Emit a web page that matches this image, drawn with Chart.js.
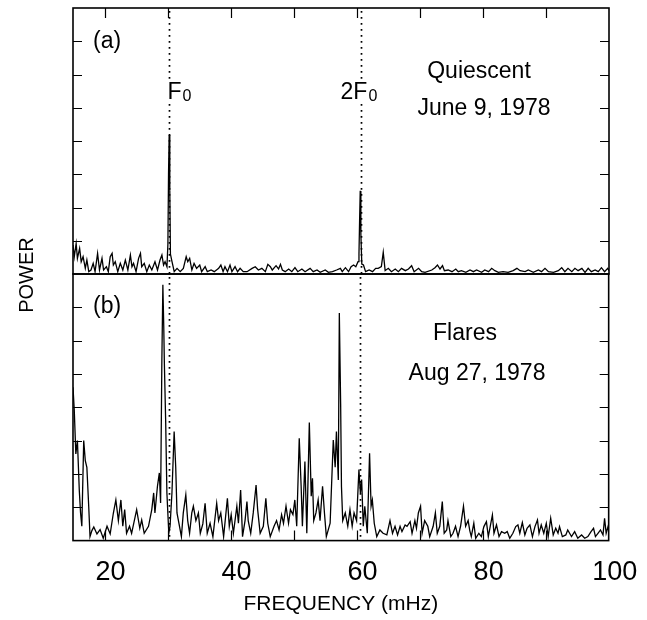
<!DOCTYPE html>
<html>
<head>
<meta charset="utf-8">
<script src="https://cdn.jsdelivr.net/npm/chart.js@4.4.1/dist/chart.umd.min.js"></script>
<style>
  html, body { margin: 0; padding: 0; background: #fff; }
  #wrap { position: relative; width: 647px; height: 620px; }
  #wrap canvas { position: absolute; left: 0; top: 0; }
</style>
</head>
<body>
<div id="wrap">
  <canvas id="panelA" width="647" height="620"></canvas>
  <canvas id="panelB" width="647" height="620"></canvas>
</div>
<script>
// (a) quiescent, June 9 1978
const freqA = [
  15.0, 15.2, 15.5, 15.7, 16.05, 16.3, 16.6, 16.95, 17.2, 17.5,
  17.85, 18.2, 18.5, 18.9, 19.2, 19.6, 19.85, 20.3, 20.6, 20.9,
  21.2, 21.4, 21.7, 22.1, 22.5, 22.9, 23.3, 23.7, 24.1, 24.35,
  24.6, 25.0, 25.4, 25.7, 25.9, 26.3, 26.7, 27.1, 27.5, 28.0,
  28.4, 28.8, 29.1, 29.36, 29.6, 29.9, 30.05, 30.15, 30.25, 30.35,
  30.45, 30.7, 31.05, 31.5, 32.0, 32.5, 32.95, 33.2, 33.5, 33.85,
  34.2, 34.6, 35.1, 35.4, 35.96, 36.3, 36.9, 37.4, 38.1, 38.45,
  38.8, 39.1, 39.5, 39.9, 40.2, 40.7, 41.1, 41.5, 42.0, 42.6,
  43.4, 43.9, 44.4, 44.95, 45.5, 45.9, 46.3, 46.6, 47.2, 47.6,
  47.9, 48.2, 48.65, 49.2, 49.7, 50.2, 50.65, 51.3, 51.8, 52.6,
  53.1, 53.7, 54.2, 55.0, 55.5, 56.15, 56.8, 57.4, 57.7, 58.2,
  58.7, 59.1, 59.5, 59.85, 60.2, 60.35, 60.45, 60.55, 60.65, 60.8,
  61.06, 61.4, 61.96, 62.5, 63.0, 63.4, 63.9, 64.2, 64.5, 65.0,
  65.5, 66.1, 66.6, 67.1, 67.7, 68.2, 68.7, 69.1, 69.8, 70.3,
  70.83, 71.9, 72.4, 72.8, 73.2, 73.6, 73.9, 74.5, 75.1, 75.7,
  76.1, 76.6, 77.3, 77.96, 78.5, 79.0, 79.8, 80.3, 80.9, 81.4,
  81.9, 82.45, 83.2, 84.0, 84.8, 85.4, 85.9, 86.7, 87.2, 88.0,
  88.8, 89.3, 89.85, 90.4, 91.2, 91.96, 92.5, 93.0, 93.5, 94.1,
  94.6, 95.1, 95.7, 96.2, 96.7, 97.2, 97.8, 98.3, 98.8, 99.3,
  99.8, 100
];
const powerA = [
  0.87, 0.52, 0.92, 0.47, 0.77, 0.37, 0.52, 0.17, 0.42, 0.07,
  0.12, 0.32, 0.07, 0.62, 0.12, 0.47, 0.12, 0.22, 0.07, 0.52,
  0.62, 0.27, 0.37, 0.07, 0.32, 0.12, 0.42, 0.12, 0.57, 0.22,
  0.32, 0.07, 0.47, 0.62, 0.22, 0.32, 0.07, 0.27, 0.12, 0.37,
  0.12, 0.42, 0.57, 0.27, 0.37, 0.22, 0.9, 3.0, 4.18, 2.5,
  0.6, 0.37, 0.07, 0.17, 0.07, 0.17, 0.52, 0.37, 0.47, 0.12,
  0.32, 0.17, 0.27, 0.07, 0.22, 0.07, 0.12, 0.07, 0.17, 0.27,
  0.07, 0.22, 0.07, 0.27, 0.07, 0.22, 0.07, 0.17, 0.07, 0.07,
  0.17, 0.22, 0.12, 0.17, 0.07, 0.29, 0.22, 0.12, 0.25, 0.15,
  0.29, 0.12, 0.07, 0.15, 0.07, 0.19, 0.07, 0.15, 0.07, 0.17,
  0.07, 0.12, 0.05, 0.12, 0.05, 0.07, 0.12, 0.17, 0.07, 0.19,
  0.07, 0.22, 0.27, 0.22, 0.37, 0.6, 1.6, 2.5, 1.2, 0.3,
  0.27, 0.07, 0.12, 0.07, 0.17, 0.17, 0.22, 0.65, 0.1, 0.17,
  0.07, 0.15, 0.07, 0.17, 0.1, 0.15, 0.25, 0.07, 0.17, 0.07,
  0.05, 0.12, 0.19, 0.27, 0.15, 0.25, 0.1, 0.12, 0.07, 0.15,
  0.07, 0.1, 0.05, 0.12, 0.07, 0.12, 0.05, 0.12, 0.07, 0.17,
  0.1, 0.05, 0.07, 0.05, 0.1, 0.17, 0.1, 0.07, 0.12, 0.05,
  0.12, 0.07, 0.17, 0.07, 0.05, 0.1, 0.19, 0.07, 0.17, 0.07,
  0.17, 0.1, 0.17, 0.05, 0.17, 0.07, 0.12, 0.07, 0.19, 0.07,
  0.17, 0.1
];

// (b) flares, Aug 27 1978
const freqB = [
  15.0, 15.2, 15.45, 15.7, 16.0, 16.2, 16.4, 16.7, 16.95, 17.2,
  17.5, 17.7, 18.0, 18.3, 18.8, 19.3, 19.8, 20.4, 20.9, 21.4,
  21.8, 22.2, 22.6, 22.9, 23.2, 23.5, 23.97, 24.3, 25.1, 25.6,
  25.9, 26.3, 26.98, 27.5, 27.8, 28.0, 28.4, 28.7, 28.9, 29.1,
  29.26, 29.4, 29.5, 29.7, 29.9, 30.2, 30.4, 30.7, 31.05, 31.3,
  31.5, 31.9, 32.2, 32.5, 32.9, 33.2, 33.5, 33.85, 34.1, 34.5,
  34.9, 35.2, 35.6, 35.96, 36.3, 36.75, 37.2, 37.8, 38.1, 38.45,
  38.9, 39.5, 39.8, 40.1, 40.45, 41.0, 41.25, 41.6, 41.9, 42.3,
  42.6, 42.8, 43.2, 43.6, 44.05, 44.3, 44.7, 45.2, 45.6, 45.9,
  46.3, 46.9, 47.3, 47.7, 48.1, 48.4, 48.8, 49.2, 49.5, 49.9,
  50.2, 50.5, 50.9, 51.2, 51.4, 51.8, 52.1, 52.5, 52.8, 53.0,
  53.2, 53.55, 53.9, 54.2, 54.6, 54.9, 55.2, 55.8, 56.3, 56.6,
  56.8, 57.1, 57.26, 57.47, 57.6, 57.8, 58.2, 58.6, 58.95, 59.3,
  59.6, 60.0, 60.37, 60.6, 60.8, 61.06, 61.3, 61.7, 62.06, 62.3,
  62.5, 62.8, 63.2, 63.7, 64.2, 64.8, 65.3, 65.7, 66.1, 66.5,
  66.9, 67.2, 67.7, 68.0, 68.5, 68.8, 69.25, 69.5, 69.8, 70.15,
  70.4, 70.8, 71.3, 71.6, 72.15, 72.5, 72.8, 73.2, 73.6, 73.9,
  74.3, 74.5, 74.95, 75.3, 75.7, 76.1, 76.5, 76.96, 77.3, 77.7,
  77.96, 78.2, 78.6, 78.9, 79.4, 79.8, 80.2, 80.6, 80.9, 81.2,
  81.55, 81.8, 82.2, 82.6, 83.0, 83.5, 83.9, 84.3, 84.8, 85.25,
  85.6, 85.9, 86.3, 86.7, 87.05, 87.5, 87.9, 88.3, 88.7, 88.95,
  89.3, 89.7, 90.1, 90.4, 90.8, 91.2, 91.6, 91.96, 92.2, 92.65,
  93.2, 93.5, 94.1, 94.6, 95.1, 95.7, 96.2, 96.7, 97.2, 97.6,
  97.9, 98.3, 98.7, 99.1, 99.35, 99.6, 99.9, 100
];
const powerB = [
  4.6, 3.92, 2.6, 3.0, 1.5, 0.83, 0.43, 3.0, 2.4, 2.2,
  1.0, 0.12, 0.3, 0.41, 0.2, 0.33, 0.07, 0.43, 0.2, 0.82,
  1.22, 0.6, 1.22, 0.43, 0.93, 0.22, 0.43, 0.22, 0.93, 0.37,
  0.62, 0.22, 0.43, 0.93, 1.43, 0.83, 1.63, 2.03, 1.13, 5.4,
  7.68, 6.43, 5.3, 3.63, 1.43, 0.22, 0.43, 1.43, 3.27, 2.2,
  0.83, 0.43, 0.12, 0.83, 1.37, 0.6, 0.22, 0.83, 1.03, 0.6,
  0.83, 0.22, 0.5, 1.12, 0.22, 0.52, 0.12, 1.12, 0.6, 0.83,
  0.12, 1.27, 0.43, 0.78, 0.22, 1.03, 0.52, 1.52, 0.12, 0.6,
  1.17, 0.6, 0.22, 0.83, 1.67, 0.93, 0.22, 0.43, 1.27, 0.52,
  0.12, 0.43, 0.6, 0.32, 0.78, 0.52, 1.03, 0.52, 0.93, 0.78,
  1.22, 0.43, 3.07, 1.63, 0.43, 2.37, 0.22, 3.54, 1.33, 1.87,
  0.6, 0.83, 1.22, 0.6, 1.63, 0.83, 0.12, 0.52, 3.02, 2.2,
  3.27, 1.82, 6.83, 4.1, 1.62, 0.6, 0.83, 0.43, 0.93, 0.43,
  0.83, 0.6, 2.13, 1.43, 1.83, 0.43, 1.03, 0.22, 2.62, 1.03,
  1.22, 0.52, 0.12, 0.32, 0.22, 0.17, 0.6, 0.22, 0.43, 0.17,
  0.43, 0.27, 0.47, 0.43, 0.57, 0.22, 0.6, 0.37, 0.83, 1.03,
  0.22, 0.6, 0.43, 0.12, 0.43, 0.83, 0.22, 0.43, 1.17, 0.22,
  0.32, 0.6, 0.12, 0.22, 0.43, 0.12, 0.43, 1.03, 0.43, 0.6,
  0.3, 0.12, 0.52, 0.07, 0.22, 0.12, 0.42, 0.57, 0.12, 0.42,
  0.77, 0.22, 0.47, 0.12, 0.27, 0.22, 0.27, 0.07, 0.22, 0.42,
  0.47, 0.22, 0.54, 0.17, 0.37, 0.47, 0.12, 0.42, 0.62, 0.22,
  0.47, 0.22, 0.52, 0.12, 0.67, 0.17, 0.37, 0.22, 0.42, 0.12,
  0.17, 0.32, 0.12, 0.27, 0.07, 0.17, 0.07, 0.12, 0.27, 0.37,
  0.12, 0.22, 0.32, 0.17, 0.67, 0.22, 0.42, 0.3
];

const F0 = 30.3;                 // fundamental, mHz
const harmonics = [1, 2];
const freqTicks = [20, 30, 40, 50, 60, 70, 80, 90];
const freqLabels = [20, 40, 60, 80, 100];
const powerTicks = [1, 2, 3, 4, 5, 6, 7];

const FONT = '"Liberation Sans", Arial, Helvetica, sans-serif';
Chart.defaults.font.family = FONT;
Chart.defaults.color = '#000';

function toPoints(xs, ys) {
  return xs.map((f, i) => ({ x: f, y: ys[i] }));
}

function drawPanel(chart, opt) {
  const { ctx, chartArea: a, scales: { x, y } } = chart;
  ctx.save();
  ctx.strokeStyle = '#000';
  ctx.fillStyle = '#000';

  // frame
  ctx.lineWidth = 1.6;
  ctx.strokeRect(a.left, a.top, a.right - a.left, a.bottom - a.top);

  // inward tick marks
  ctx.lineWidth = 1.2;
  ctx.beginPath();
  powerTicks.forEach(v => {
    const py = Math.round(y.getPixelForValue(v)) + 0.5;
    ctx.moveTo(a.left, py); ctx.lineTo(a.left + 9, py);
    ctx.moveTo(a.right, py); ctx.lineTo(a.right - 9, py);
  });
  freqTicks.forEach(v => {
    const px = Math.round(x.getPixelForValue(v)) + 0.5;
    if (opt.tickEdge === 'top') { ctx.moveTo(px, a.top); ctx.lineTo(px, a.top + 10); }
    else { ctx.moveTo(px, a.bottom); ctx.lineTo(px, a.bottom - 10); }
  });
  ctx.stroke();

  // dotted harmonic markers
  ctx.setLineDash([1.7, 4.3]);
  ctx.lineWidth = 1.7;
  harmonics.forEach(h => {
    const px = Math.round(x.getPixelForValue(h * F0)) + 0.5;
    ctx.beginPath();
    if (opt.gap) {
      ctx.moveTo(px, a.top + 3); ctx.lineTo(px, opt.gap[0]);
      ctx.moveTo(px, opt.gap[1]); ctx.lineTo(px, a.bottom);
    } else {
      ctx.moveTo(px, a.top + 3); ctx.lineTo(px, a.bottom);
    }
    ctx.stroke();
  });
  ctx.setLineDash([]);

  // harmonic labels
  if (opt.harmonicLabels) {
    harmonics.forEach(h => {
      const px = x.getPixelForValue(h * F0);
      const main = h === 1 ? 'F' : h + 'F';
      ctx.font = '23px ' + FONT;
      ctx.textAlign = 'left';
      ctx.textBaseline = 'alphabetic';
      const x0 = h === 1 ? px - 2 : px - 20;
      ctx.fillText(main, x0, 99);
      const w = ctx.measureText(main).width;
      ctx.font = '16px ' + FONT;
      ctx.fillText('0', x0 + w + 1, 101);
    });
  }

  // panel texts
  ctx.textBaseline = 'alphabetic';
  opt.texts.forEach(t => {
    ctx.font = '23px ' + FONT;
    ctx.textAlign = t.align;
    ctx.fillText(t.text, t.x, t.y);
  });

  if (opt.yTitle) {
    ctx.save();
    ctx.translate(27, 275);
    ctx.rotate(-Math.PI / 2);
    ctx.font = '20px ' + FONT;
    ctx.textAlign = 'center';
    ctx.textBaseline = 'middle';
    ctx.fillText(opt.yTitle, 0, 0);
    ctx.restore();
  }
  ctx.restore();
}

function lineDataset(points) {
  return {
    data: points,
    borderColor: '#000',
    borderWidth: 1.3,
    pointRadius: 0,
    fill: false,
    tension: 0
  };
}

new Chart(document.getElementById('panelA'), {
  type: 'line',
  data: { datasets: [lineDataset(toPoints(freqA, powerA))] },
  options: {
    responsive: false,
    animation: false,
    devicePixelRatio: 1,
    layout: { padding: { left: 73, right: 38, top: 8, bottom: 346 } },
    plugins: { legend: { display: false }, tooltip: { enabled: false } },
    scales: {
      x: { type: 'linear', min: 15, max: 100, display: false },
      y: { type: 'linear', min: 0, max: 8, display: false }
    }
  },
  plugins: [{
    id: 'panelA',
    afterDraw: c => drawPanel(c, {
      tickEdge: 'top',
      gap: [79, 104],
      harmonicLabels: true,
      texts: [
        { text: '(a)', x: 93, y: 48, align: 'left' },
        { text: 'Quiescent', x: 479, y: 78, align: 'center' },
        { text: 'June 9, 1978', x: 484, y: 115, align: 'center' }
      ]
    })
  }]
});

new Chart(document.getElementById('panelB'), {
  type: 'line',
  data: { datasets: [lineDataset(toPoints(freqB, powerB))] },
  options: {
    responsive: false,
    animation: false,
    devicePixelRatio: 1,
    layout: { padding: { left: 73, right: 38, top: 274, bottom: 0 } },
    plugins: { legend: { display: false }, tooltip: { enabled: false } },
    scales: {
      x: {
        type: 'linear', min: 15, max: 100, position: 'bottom',
        afterBuildTicks: s => { s.ticks = freqLabels.map(v => ({ value: v })); },
        grid: { display: false, drawTicks: false },
        border: { display: false },
        ticks: {
          padding: 15.8, labelOffset: 6, maxRotation: 0, autoSkip: false,
          font: { size: 27 }, color: '#000'
        },
        title: {
          display: true, text: 'FREQUENCY (mHz)', color: '#000',
          font: { size: 21 }, padding: { top: -13.3, bottom: 3.5 }
        }
      },
      y: { type: 'linear', min: 0, max: 8, display: false }
    }
  },
  plugins: [{
    id: 'panelB',
    afterDraw: c => drawPanel(c, {
      tickEdge: 'bottom',
      gap: null,
      harmonicLabels: false,
      yTitle: 'POWER',
      texts: [
        { text: '(b)', x: 93, y: 313, align: 'left' },
        { text: 'Flares', x: 465, y: 340, align: 'center' },
        { text: 'Aug 27, 1978', x: 477, y: 380, align: 'center' }
      ]
    })
  }]
});
</script>
</body>
</html>
